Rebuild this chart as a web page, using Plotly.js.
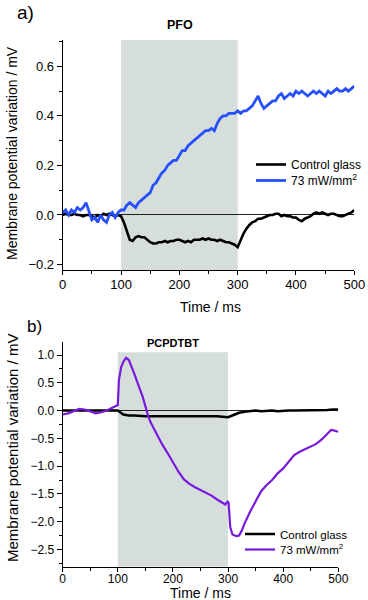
<!DOCTYPE html>
<html>
<head>
<meta charset="utf-8">
<script src="https://cdn.plot.ly/plotly-3.0.1.min.js"></script>
<style>
  html, body { margin: 0; padding: 0; background: #fff; }
  #chart { width: 368px; height: 600px; }
</style>
</head>
<body>
<div id="chart"></div>
<script>
// Panel a) PFO, samples every 5 ms from 0 to 500 ms
var pfoStep = 5;
var pfoControl = [
  0.0, 0.005, 0.0, 0.0, 0.005, 0.0, 0.0, -0.005, 0.0, 0.0,
  -0.005, -0.01, 0.0, -0.005, 0.005, 0.0, 0.005, 0.0, -0.005, 0.0,
  -0.005, -0.03, -0.07, -0.1, -0.105, -0.09, -0.085, -0.09, -0.09, -0.1,
  -0.11, -0.115, -0.115, -0.11, -0.11, -0.105, -0.11, -0.105, -0.105, -0.1,
  -0.1, -0.105, -0.11, -0.105, -0.11, -0.1, -0.1, -0.1, -0.095, -0.1,
  -0.095, -0.1, -0.1, -0.105, -0.1, -0.105, -0.11, -0.11, -0.115, -0.12,
  -0.13, -0.1, -0.075, -0.055, -0.04, -0.03, -0.025, -0.015, -0.015, -0.01,
  -0.005, 0.0, 0.0, 0.005, 0.005, -0.005, 0.0, -0.005, -0.005, -0.01,
  -0.01, -0.02, -0.025, -0.015, -0.01, -0.005, 0.005, 0.01, 0.005, 0.01,
  0.005, 0.0, 0.005, 0.005, 0.0, -0.005, -0.005, 0.0, 0.005, 0.01,
  0.02
];
var pfoLight = [
  0.01, 0.02, 0.0, 0.02, 0.01, 0.03, 0.02, 0.03, 0.05, 0.01,
  -0.02, -0.01, -0.03, 0.0, -0.02, -0.03, 0.0, 0.01, -0.01, 0.01,
  0.02, 0.02, 0.04, 0.05, 0.04, 0.03, 0.05, 0.06, 0.07, 0.08,
  0.09, 0.12, 0.13, 0.15, 0.17, 0.18, 0.20, 0.21, 0.22, 0.22,
  0.24, 0.26, 0.26, 0.28, 0.29, 0.30, 0.31, 0.32, 0.33, 0.34,
  0.34, 0.35, 0.34, 0.37, 0.39, 0.40, 0.40, 0.41, 0.41, 0.41,
  0.42, 0.41, 0.42, 0.42, 0.43, 0.44, 0.46, 0.48, 0.45, 0.43,
  0.44, 0.45, 0.46, 0.46, 0.48, 0.49, 0.47, 0.48, 0.49, 0.48,
  0.50, 0.49, 0.50, 0.49, 0.48, 0.49, 0.50, 0.49, 0.50, 0.49,
  0.48, 0.50, 0.49, 0.50, 0.51, 0.50, 0.50, 0.51, 0.50, 0.51,
  0.52
];

// Panel b) PCPDTBT
var pcpStep = 10;
var pcpControl = [
  0.0, 0.0, 0.0, 0.0, 0.0, 0.0, 0.0, 0.0, 0.0, 0.01,
  0.0, -0.07, -0.09, -0.09, -0.1, -0.1, -0.1, -0.1, -0.1, -0.09,
  -0.09, -0.1, -0.1, -0.09, -0.09, -0.09, -0.1, -0.1, -0.1, -0.11,
  -0.12, -0.08, -0.04, -0.02, -0.01, 0.0, -0.01, 0.0, 0.0, -0.01,
  0.0, 0.0, 0.0, 0.0, 0.01, 0.01, 0.01, 0.0, 0.01, 0.02,
  0.02
];
var pcpTime = [
  0, 10, 20, 30, 40, 50, 60, 70, 80, 90, 98, 100, 102, 106, 110, 115, 120, 125, 130, 135,
  140, 145, 150, 155, 160, 170, 180, 190, 200, 210, 220, 230, 240, 250, 260, 270, 280, 290, 295, 299,
  301, 304, 308, 315, 320, 325, 330, 340, 350, 360, 370, 380, 390, 400, 410, 420, 430, 440, 450, 460,
  470, 480, 487, 493, 500
];
var pcpLight = [
  -0.07, -0.05, -0.01, 0.03, 0.02, -0.02, -0.05, -0.03, 0.0, 0.05, 0.08, 0.1, 0.55, 0.78, 0.88, 0.95, 0.91, 0.8, 0.66, 0.52,
  0.4, 0.25, 0.08, -0.1, -0.22, -0.42, -0.6, -0.76, -0.93, -1.1, -1.24, -1.32, -1.38, -1.43, -1.47, -1.53, -1.6, -1.66, -1.69, -1.64,
  -1.66, -2.1, -2.23, -2.26, -2.25, -2.16, -2.03, -1.82, -1.64, -1.45, -1.34, -1.25, -1.13, -1.04, -0.92, -0.8, -0.74, -0.69, -0.65, -0.6,
  -0.52, -0.42, -0.35, -0.36, -0.38
];

var lightOn = [100, 300];
var legendNames = ['Control glass', '73 mW/mm<sup>2</sup>'];

var shade = 'rgb(214,222,220)';
var fontFam = '"Liberation Sans", Arial, sans-serif';

var data = [
  {x0: 0, dx: pfoStep, y: pfoControl, xaxis: 'x', yaxis: 'y', mode: 'lines', name: legendNames[0],
   line: {color: '#000', width: 2.6}, legend: 'legend', showlegend: true},
  {x0: 0, dx: pfoStep, y: pfoLight, xaxis: 'x', yaxis: 'y', mode: 'lines', name: legendNames[1],
   line: {color: 'rgb(40,80,250)', width: 2.8}, legend: 'legend2', showlegend: true},
  {x0: 0, dx: pcpStep, y: pcpControl, xaxis: 'x2', yaxis: 'y2', mode: 'lines', name: legendNames[0],
   line: {color: '#000', width: 2.5}, legend: 'legend3', showlegend: true},
  {x: pcpTime, y: pcpLight, xaxis: 'x2', yaxis: 'y2', mode: 'lines', name: legendNames[1],
   line: {color: 'rgb(120,25,220)', width: 2.2}, legend: 'legend4', showlegend: true}
];

function xAx(dom, anchor, size, standoff) {
  return {
    domain: dom, anchor: anchor, range: [0, 500], dtick: 100,
    showline: true, linecolor: '#000', linewidth: 1,
    ticks: 'outside', ticklen: 4, tickcolor: '#000', ticklabelstandoff: standoff,
    minor: {dtick: 50, ticks: 'outside', ticklen: 3, tickcolor: '#000'},
    showgrid: false, zeroline: false,
    tickfont: {size: size, color: '#000'}
  };
}
function yAx(dom, anchor, range, dtick, minorStep, size) {
  return {
    domain: dom, anchor: anchor, range: range, dtick: dtick, tickformat: '.1f',
    showline: true, linecolor: '#000', linewidth: 1,
    ticks: 'outside', ticklen: 5, tickcolor: '#000',
    minor: {dtick: minorStep, ticks: 'outside', ticklen: 3, tickcolor: '#000'},
    showgrid: false, zeroline: true, zerolinecolor: '#222', zerolinewidth: 1,
    tickfont: {size: size, color: '#000'}
  };
}

// one legend box per entry so the rows sit where the reference has them
function leg(x, top, size) {
  return {x: x / 368, y: 1 - top / 600, xanchor: 'left', yanchor: 'top',
          bgcolor: 'rgba(0,0,0,0)', font: {size: size}, visible: true};
}

function note(text, x, y, size, opts) {
  var a = {text: text, xref: 'paper', yref: 'paper', x: x / 368, y: 1 - y / 600,
           xanchor: 'center', yanchor: 'middle', showarrow: false,
           font: {size: size, color: '#000', family: fontFam}};
  for (var k in opts) a[k] = opts[k];
  return a;
}

var layout = {
  width: 368, height: 600,
  margin: {l: 0, r: 0, t: 0, b: 0},
  showlegend: true,
  paper_bgcolor: '#fff', plot_bgcolor: 'rgba(0,0,0,0)',
  font: {family: fontFam, color: '#000'},
  xaxis: xAx([62.7 / 368, 354.3 / 368], 'y', 13, -2),
  yaxis: yAx([0.55, 1 - 40 / 600], 'x', [-0.222, 0.706], 0.2, 0.1, 13),
  xaxis2: xAx([62.7 / 368, 338.3 / 368], 'y2', 12, -3),
  yaxis2: yAx([1 - 566.7 / 600, 1 - 341.7 / 600], 'x2', [-2.81, 1.24], 0.5, 0.25, 12),
  shapes: [
    {type: 'rect', xref: 'x', yref: 'y domain', x0: lightOn[0], x1: lightOn[1], y0: 0, y1: 1,
     fillcolor: shade, line: {width: 0}, layer: 'below'},
    {type: 'rect', xref: 'x2', yref: 'y2', x0: lightOn[0], x1: lightOn[1], y0: -2.81, y1: 1.05,
     fillcolor: shade, line: {width: 0}, layer: 'below'}
  ],
  legend: leg(251, 150, 12),
  legend2: leg(251, 166, 12),
  legend3: leg(240, 519.5, 11.5),
  legend4: leg(240, 535, 11.5),
  annotations: [
    note('a)', 25, 12, 19),
    note('b)', 34, 326, 17),
    note('<b>PFO</b>', 180, 25, 12.5),
    note('<b>PCPDTBT</b>', 173, 343, 11),
    note('Time / ms', 210, 307, 14),
    note('Time / ms', 200, 592.5, 14),
    note('Membrane potential variation / mV', 12, 153, 14, {textangle: -90}),
    note('Membrane potential variation / mV', 12, 448, 15, {textangle: -90})
  ]
};

Plotly.newPlot('chart', data, layout, {staticPlot: true});
</script>
</body>
</html>
